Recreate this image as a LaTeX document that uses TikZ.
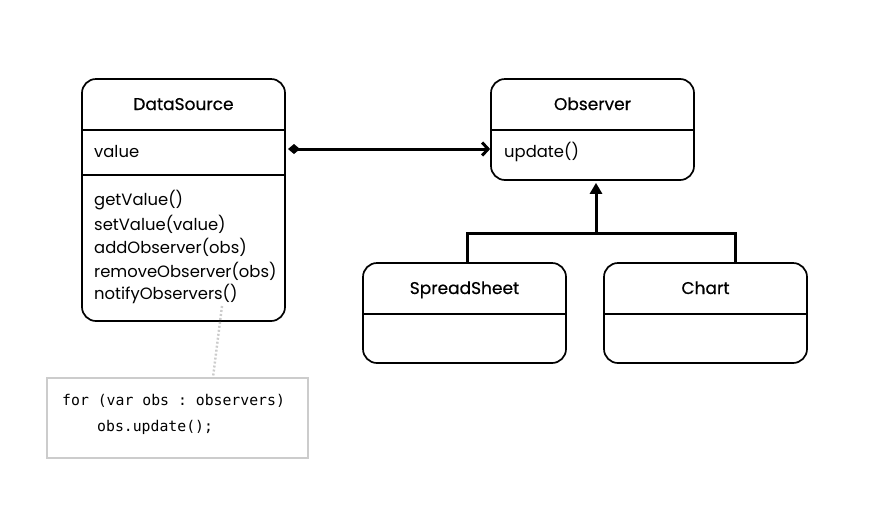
\documentclass[tikz,border=0pt]{standalone}
\usepackage{fontspec}
\setmainfont{Poppins}
\setmonofont{DejaVu Sans Mono}
\usetikzlibrary{arrows.meta}
\tikzset{
  umlbox/.style={draw=black, line width=1.7pt, rounded corners=14pt, fill=white, inner sep=0pt},
  sepline/.style={draw=black, line width=1.5pt},
  ttl/.style={font=\fontsize{17}{20}\selectfont\addfontfeatures{FakeBold=0.5}, inner sep=0pt, anchor=base},
  mem/.style={font=\fontsize{16.4}{19}\selectfont, inner sep=0pt, anchor=west},
  code/.style={font=\ttfamily\fontsize{14.8}{17}\selectfont, inner sep=0pt, anchor=west},
  notebox/.style={draw=black!20, line width=1.6pt, fill=white, inner sep=0pt},
  conn/.style={draw=black, line width=3pt},
}
\begin{document}
\begin{tikzpicture}[x=1pt,y=-1pt]
\useasboundingbox[fill=white] (0,0) rectangle (888,512);
% DataSource
\node[umlbox, minimum width=203pt, minimum height=242pt] (ds) at (183.5,200) {};
\draw[sepline] (ds.west |- 0,130) -- (ds.east |- 0,130);
\draw[sepline] (ds.west |- 0,175) -- (ds.east |- 0,175);
\node[ttl] (dst) at (183.5,110) {DataSource};
\node[mem] (dsv) at (94,152) {value};
\node[mem] (m1) at (94,200) {getValue()};
\node[mem] (m2) at (94,224) {setValue(value)};
\node[mem] (m3) at (94,247) {addObserver(obs)};
\node[mem] (m4) at (94,271) {removeObserver(obs)};
\node[mem] (m5) at (94,294) {notifyObservers()};
% Observer
\node[umlbox, minimum width=203pt, minimum height=101pt] (obs) at (592.5,129.5) {};
\draw[sepline] (obs.west |- 0,130) -- (obs.east |- 0,130);
\node[ttl] (obst) at (592.5,110) {Observer};
\node[mem] (obsu) at (504,152) {update()};
% SpreadSheet
\node[umlbox, minimum width=203pt, minimum height=100pt] (ss) at (464.5,313) {};
\draw[sepline] (ss.west |- 0,314) -- (ss.east |- 0,314);
\node[ttl] (sst) at (464.5,294) {SpreadSheet};
% Chart
\node[umlbox, minimum width=203pt, minimum height=100pt] (ch) at (705.5,313) {};
\draw[sepline] (ch.west |- 0,314) -- (ch.east |- 0,314);
\node[ttl] (cht) at (705.5,294) {Chart};
% Note
\node[notebox, minimum width=261pt, minimum height=80pt] (note) at (177.5,418) {};
\node[code] (c1) at (62,401) {for (var obs : observers)};
\node[code] (c2) at (97,427) {obs.update();};
% aggregation
\coordinate (aggs) at (288,149);
\draw[conn, {Diamond[length=12pt,width=10pt]}-{Straight Barb[length=6pt,width=13pt]}]
  (aggs) -- (obs.west |- 0,149);
% inheritance
\coordinate (junc) at (596,233);
\draw[conn, line cap=rect] (ss.north -| 467,0) |- (junc);
\draw[conn, line cap=rect] (ch.north -| 735,0) |- (junc);
\draw[conn, -{Triangle[length=11pt,width=12pt]}, shorten >=2pt] (junc) -- (obs.south -| junc);
% note link
\coordinate (nlk) at (222,306);
\draw[draw=black!20, line width=2.4pt, dash pattern=on 2pt off 2pt] (nlk) -- (note.north -| 213,0);
\end{tikzpicture}
\end{document}
